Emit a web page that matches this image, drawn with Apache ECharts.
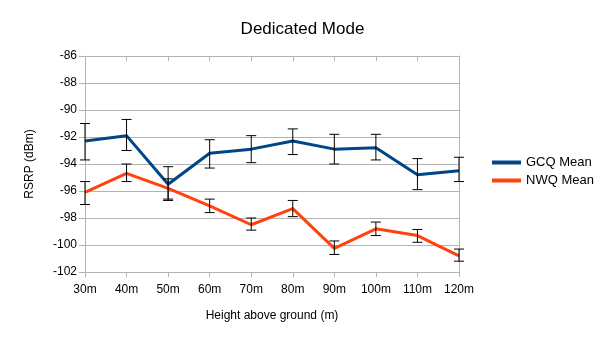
<!DOCTYPE html>
<html>
<head>
<meta charset="utf-8">
<script src="https://cdn.jsdelivr.net/npm/echarts@6/dist/echarts.min.js"></script>
<style>
html,body{margin:0;padding:0;background:#fff;}
#chart{width:605px;height:340px;}
</style>
</head>
<body>
<div id="chart"></div>
<script>
var heights = ['30m','40m','50m','60m','70m','80m','90m','100m','110m','120m'];
var gcqMean = [-92.3,-91.9,-95.5,-93.2,-92.9,-92.3,-92.9,-92.8,-94.8,-94.5];
var gcqLow  = [-93.7,-93.0,-96.7,-94.3,-93.9,-93.3,-94.0,-93.7,-95.9,-95.3];
var gcqHigh = [-91.0,-90.7,-94.2,-92.2,-91.9,-91.4,-91.8,-91.8,-93.6,-93.5];
var nwqMean = [-96.1,-94.7,-95.8,-97.1,-98.5,-97.3,-100.25,-98.8,-99.3,-100.8];
var nwqLow  = [-97.0,-95.3,-96.6,-97.6,-98.9,-97.9,-100.7,-99.3,-99.8,-101.2];
var nwqHigh = [-95.3,-94.0,-95.1,-96.6,-98.0,-96.7,-99.7,-98.3,-98.85,-100.3];

var font = '"Liberation Sans", Arial, sans-serif';

// 误差线数据 [类别索引, 下限, 上限]
function errData(low, high) {
	var arr = [];
	for (var i = 0; i < low.length; i++) {
		arr.push([i, low[i], high[i]]);
	}
	return arr;
}

function renderErr(params, api) {
	var x = api.value(0);
	var lo = api.coord([x, api.value(1)]);
	var hi = api.coord([x, api.value(2)]);
	var w = 5;
	var style = { stroke: '#000', lineWidth: 1 };
	return {
		type: 'group',
		children: [
			{ type: 'line', shape: { x1: lo[0], y1: lo[1], x2: hi[0], y2: hi[1] }, style: style },
			{ type: 'line', shape: { x1: lo[0]-w, y1: lo[1], x2: lo[0]+w, y2: lo[1] }, style: style },
			{ type: 'line', shape: { x1: hi[0]-w, y1: hi[1], x2: hi[0]+w, y2: hi[1] }, style: style }
		]
	};
}

var myChart = echarts.init(document.getElementById('chart'));
var option = {
	animation: false,
	title: {
		text: 'Dedicated Mode',
		left: 'center',
		top: 16,
		textStyle: { fontFamily: font, fontSize: 17, fontWeight: 'normal', color: '#000' }
	},
	legend: {
		orient: 'vertical',
		left: 492,
		top: 156,
		padding: 0,
		itemWidth: 29,
		itemHeight: 4,
		itemGap: 5,
		icon: 'rect',
		data: ['GCQ Mean', 'NWQ Mean'],
		textStyle: { fontFamily: font, fontSize: 13, color: '#000' }
	},
	grid: { left: 85, right: 146, top: 56, bottom: 68 },
	xAxis: [{
		type: 'category',
		data: heights,
		boundaryGap: false,
		name: 'Height above ground (m)',
		nameLocation: 'middle',
		nameGap: 38,
		nameTextStyle: { fontFamily: font, fontSize: 12, color: '#000' },
		axisLine: { lineStyle: { color: '#b3b3b3' } },
		axisTick: { show: true, length: 5, lineStyle: { color: '#b3b3b3' } },
		axisLabel: { fontFamily: font, fontSize: 12, color: '#000', margin: 12 },
		splitLine: { show: false }
	}, {
		type: 'category',
		data: heights,
		boundaryGap: false,
		position: 'top',
		axisLine: { lineStyle: { color: '#b3b3b3' } },
		axisTick: { show: true, inside: true, length: 5, lineStyle: { color: '#b3b3b3' } },
		axisLabel: { show: false }
	}],
	yAxis: [{
		type: 'value',
		min: -102,
		max: -86,
		interval: 2,
		name: 'RSRP (dBm)',
		nameLocation: 'middle',
		nameGap: 49,
		nameTextStyle: { fontFamily: font, fontSize: 12, color: '#000' },
		axisLine: { show: true, lineStyle: { color: '#b3b3b3' } },
		axisTick: { show: true, length: 6, lineStyle: { color: '#b3b3b3' } },
		axisLabel: { fontFamily: font, fontSize: 12, color: '#000', margin: 8 },
		splitLine: { lineStyle: { color: '#b3b3b3' } }
	}, {
		type: 'value',
		min: -102,
		max: -86,
		interval: 2,
		position: 'right',
		axisLine: { show: true, lineStyle: { color: '#b3b3b3' } },
		axisTick: { show: false },
		axisLabel: { show: false },
		splitLine: { show: false }
	}],
	series: [{
		name: 'GCQ Mean',
		type: 'line',
		data: gcqMean,
		symbol: 'none',
		itemStyle: { color: '#004586' },
		lineStyle: { color: '#004586', width: 3 },
		z: 3
	}, {
		name: 'NWQ Mean',
		type: 'line',
		data: nwqMean,
		symbol: 'none',
		itemStyle: { color: '#ff420e' },
		lineStyle: { color: '#ff420e', width: 3 },
		z: 3
	}, {
		type: 'custom',
		renderItem: renderErr,
		data: errData(gcqLow, gcqHigh),
		encode: { x: 0, y: [1, 2] },
		z: 4
	}, {
		type: 'custom',
		renderItem: renderErr,
		data: errData(nwqLow, nwqHigh),
		encode: { x: 0, y: [1, 2] },
		z: 4
	}]
};
myChart.setOption(option);
</script>
</body>
</html>
